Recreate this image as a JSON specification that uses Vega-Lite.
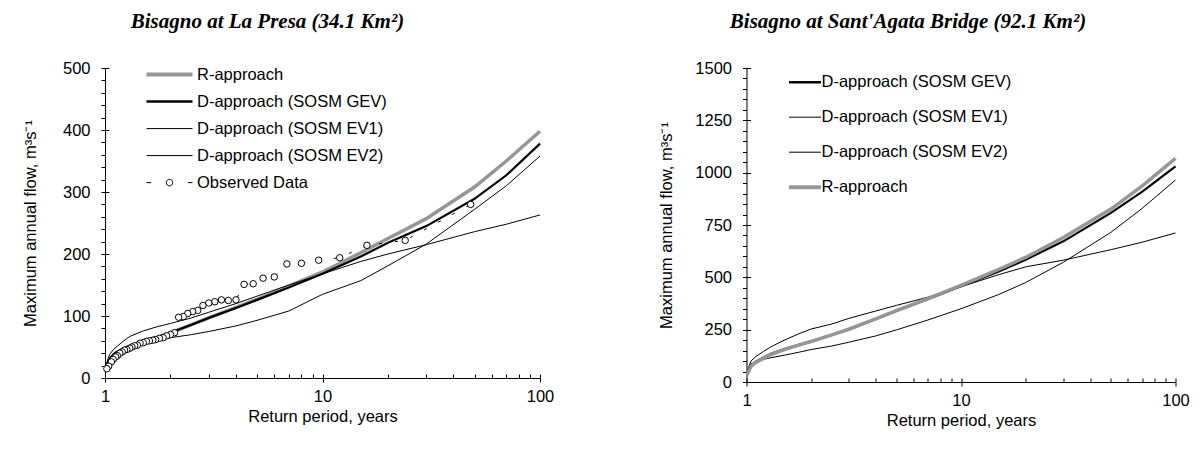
{
  "$schema": "https://vega.github.io/schema/vega-lite/v6.json",
  "background": "white",
  "padding": {"left": 22, "top": 11, "right": 0, "bottom": 0},
  "config": {
    "view": {"stroke": null},
    "font": "Liberation Sans",
    "axis": {"labelFont": "Liberation Sans", "labelFontSize": 16.5, "labelColor": "black", "titleFont": "Liberation Sans", "titleFontSize": 16.5, "titleFontWeight": "normal", "titleColor": "black", "domainColor": "black", "tickColor": "black", "domainWidth": 1, "tickWidth": 1, "grid": false, "labelFlush": false},
    "title": {"font": "Liberation Serif", "fontSize": 21, "fontWeight": "bold", "fontStyle": "italic", "color": "black"}
  },
  "datasets": {
    "left": [
      {"series": "R-approach", "T": 1.005, "Q": 14}, {"series": "R-approach", "T": 1.05, "Q": 30}, {"series": "R-approach", "T": 1.1, "Q": 37}, {"series": "R-approach", "T": 1.2, "Q": 45}, {"series": "R-approach", "T": 1.3, "Q": 51}, {"series": "R-approach", "T": 1.5, "Q": 59}, {"series": "R-approach", "T": 1.75, "Q": 66}, {"series": "R-approach", "T": 2, "Q": 73}, {"series": "R-approach", "T": 2.5, "Q": 86}, {"series": "R-approach", "T": 3, "Q": 97}, {"series": "R-approach", "T": 4, "Q": 114}, {"series": "R-approach", "T": 5, "Q": 127}, {"series": "R-approach", "T": 7, "Q": 148}, {"series": "R-approach", "T": 10, "Q": 171}, {"series": "R-approach", "T": 15, "Q": 202}, {"series": "R-approach", "T": 20, "Q": 225}, {"series": "R-approach", "T": 30, "Q": 257}, {"series": "R-approach", "T": 50, "Q": 308}, {"series": "R-approach", "T": 70, "Q": 350}, {"series": "R-approach", "T": 100, "Q": 398},
      {"series": "D-approach (SOSM EV1)", "T": 1.005, "Q": 18}, {"series": "D-approach (SOSM EV1)", "T": 1.05, "Q": 38}, {"series": "D-approach (SOSM EV1)", "T": 1.1, "Q": 47}, {"series": "D-approach (SOSM EV1)", "T": 1.2, "Q": 58}, {"series": "D-approach (SOSM EV1)", "T": 1.3, "Q": 67}, {"series": "D-approach (SOSM EV1)", "T": 1.5, "Q": 76}, {"series": "D-approach (SOSM EV1)", "T": 1.75, "Q": 83}, {"series": "D-approach (SOSM EV1)", "T": 2, "Q": 88}, {"series": "D-approach (SOSM EV1)", "T": 2.5, "Q": 97}, {"series": "D-approach (SOSM EV1)", "T": 3, "Q": 106}, {"series": "D-approach (SOSM EV1)", "T": 4, "Q": 120}, {"series": "D-approach (SOSM EV1)", "T": 5, "Q": 132}, {"series": "D-approach (SOSM EV1)", "T": 7, "Q": 150}, {"series": "D-approach (SOSM EV1)", "T": 10, "Q": 168}, {"series": "D-approach (SOSM EV1)", "T": 15, "Q": 188}, {"series": "D-approach (SOSM EV1)", "T": 20, "Q": 200}, {"series": "D-approach (SOSM EV1)", "T": 30, "Q": 215}, {"series": "D-approach (SOSM EV1)", "T": 50, "Q": 236}, {"series": "D-approach (SOSM EV1)", "T": 70, "Q": 248}, {"series": "D-approach (SOSM EV1)", "T": 100, "Q": 263},
      {"series": "D-approach (SOSM EV2)", "T": 1.005, "Q": 18}, {"series": "D-approach (SOSM EV2)", "T": 1.05, "Q": 33}, {"series": "D-approach (SOSM EV2)", "T": 1.1, "Q": 41}, {"series": "D-approach (SOSM EV2)", "T": 1.2, "Q": 48}, {"series": "D-approach (SOSM EV2)", "T": 1.3, "Q": 53}, {"series": "D-approach (SOSM EV2)", "T": 1.5, "Q": 58}, {"series": "D-approach (SOSM EV2)", "T": 1.75, "Q": 62}, {"series": "D-approach (SOSM EV2)", "T": 2, "Q": 65}, {"series": "D-approach (SOSM EV2)", "T": 2.5, "Q": 70}, {"series": "D-approach (SOSM EV2)", "T": 3, "Q": 75}, {"series": "D-approach (SOSM EV2)", "T": 4, "Q": 84}, {"series": "D-approach (SOSM EV2)", "T": 5, "Q": 93}, {"series": "D-approach (SOSM EV2)", "T": 7, "Q": 108}, {"series": "D-approach (SOSM EV2)", "T": 10, "Q": 135}, {"series": "D-approach (SOSM EV2)", "T": 15, "Q": 157}, {"series": "D-approach (SOSM EV2)", "T": 20, "Q": 181}, {"series": "D-approach (SOSM EV2)", "T": 30, "Q": 216}, {"series": "D-approach (SOSM EV2)", "T": 50, "Q": 272}, {"series": "D-approach (SOSM EV2)", "T": 70, "Q": 310}, {"series": "D-approach (SOSM EV2)", "T": 100, "Q": 358},
      {"series": "D-approach (SOSM GEV)", "T": 1.005, "Q": 15}, {"series": "D-approach (SOSM GEV)", "T": 1.05, "Q": 31}, {"series": "D-approach (SOSM GEV)", "T": 1.1, "Q": 38}, {"series": "D-approach (SOSM GEV)", "T": 1.2, "Q": 46}, {"series": "D-approach (SOSM GEV)", "T": 1.3, "Q": 51}, {"series": "D-approach (SOSM GEV)", "T": 1.5, "Q": 59}, {"series": "D-approach (SOSM GEV)", "T": 1.75, "Q": 66}, {"series": "D-approach (SOSM GEV)", "T": 2, "Q": 73}, {"series": "D-approach (SOSM GEV)", "T": 2.5, "Q": 86}, {"series": "D-approach (SOSM GEV)", "T": 3, "Q": 97}, {"series": "D-approach (SOSM GEV)", "T": 4, "Q": 113}, {"series": "D-approach (SOSM GEV)", "T": 5, "Q": 126}, {"series": "D-approach (SOSM GEV)", "T": 7, "Q": 146}, {"series": "D-approach (SOSM GEV)", "T": 10, "Q": 168}, {"series": "D-approach (SOSM GEV)", "T": 15, "Q": 196}, {"series": "D-approach (SOSM GEV)", "T": 20, "Q": 218}, {"series": "D-approach (SOSM GEV)", "T": 30, "Q": 245}, {"series": "D-approach (SOSM GEV)", "T": 50, "Q": 289}, {"series": "D-approach (SOSM GEV)", "T": 70, "Q": 327}, {"series": "D-approach (SOSM GEV)", "T": 100, "Q": 378}
    ],
    "observed": [
      {"T": 48, "Q": 280}, {"T": 24, "Q": 222}, {"T": 16, "Q": 214}, {"T": 12, "Q": 194}, {"T": 9.6, "Q": 190}, {"T": 8, "Q": 185}, {"T": 6.86, "Q": 184}, {"T": 6, "Q": 163}, {"T": 5.33, "Q": 161}, {"T": 4.8, "Q": 152}, {"T": 4.36, "Q": 151}, {"T": 4, "Q": 126}, {"T": 3.69, "Q": 125}, {"T": 3.43, "Q": 126}, {"T": 3.2, "Q": 123}, {"T": 3, "Q": 121}, {"T": 2.82, "Q": 117}, {"T": 2.67, "Q": 109}, {"T": 2.53, "Q": 107}, {"T": 2.4, "Q": 104}, {"T": 2.29, "Q": 99}, {"T": 2.18, "Q": 98}, {"T": 2.09, "Q": 73}, {"T": 2, "Q": 70}, {"T": 1.92, "Q": 68}, {"T": 1.85, "Q": 65}, {"T": 1.78, "Q": 64}, {"T": 1.71, "Q": 62}, {"T": 1.66, "Q": 61}, {"T": 1.6, "Q": 60}, {"T": 1.55, "Q": 59}, {"T": 1.5, "Q": 57}, {"T": 1.45, "Q": 56}, {"T": 1.41, "Q": 53}, {"T": 1.37, "Q": 52}, {"T": 1.33, "Q": 50}, {"T": 1.3, "Q": 48}, {"T": 1.26, "Q": 46}, {"T": 1.23, "Q": 45}, {"T": 1.2, "Q": 42}, {"T": 1.17, "Q": 40}, {"T": 1.14, "Q": 36}, {"T": 1.12, "Q": 34}, {"T": 1.09, "Q": 30}, {"T": 1.07, "Q": 26}, {"T": 1.04, "Q": 19}, {"T": 1.02, "Q": 15}
    ],
    "right": [
      {"series": "D-approach (SOSM EV1)", "T": 1.005, "Q": 50}, {"series": "D-approach (SOSM EV1)", "T": 1.05, "Q": 100}, {"series": "D-approach (SOSM EV1)", "T": 1.1, "Q": 120}, {"series": "D-approach (SOSM EV1)", "T": 1.2, "Q": 146}, {"series": "D-approach (SOSM EV1)", "T": 1.3, "Q": 168}, {"series": "D-approach (SOSM EV1)", "T": 1.5, "Q": 200}, {"series": "D-approach (SOSM EV1)", "T": 1.75, "Q": 230}, {"series": "D-approach (SOSM EV1)", "T": 2, "Q": 253}, {"series": "D-approach (SOSM EV1)", "T": 2.5, "Q": 277}, {"series": "D-approach (SOSM EV1)", "T": 3, "Q": 304}, {"series": "D-approach (SOSM EV1)", "T": 4, "Q": 339}, {"series": "D-approach (SOSM EV1)", "T": 5, "Q": 366}, {"series": "D-approach (SOSM EV1)", "T": 7, "Q": 405}, {"series": "D-approach (SOSM EV1)", "T": 10, "Q": 455}, {"series": "D-approach (SOSM EV1)", "T": 15, "Q": 513}, {"series": "D-approach (SOSM EV1)", "T": 20, "Q": 550}, {"series": "D-approach (SOSM EV1)", "T": 30, "Q": 582}, {"series": "D-approach (SOSM EV1)", "T": 50, "Q": 632}, {"series": "D-approach (SOSM EV1)", "T": 70, "Q": 668}, {"series": "D-approach (SOSM EV1)", "T": 100, "Q": 712},
      {"series": "D-approach (SOSM EV2)", "T": 1.005, "Q": 50}, {"series": "D-approach (SOSM EV2)", "T": 1.05, "Q": 85}, {"series": "D-approach (SOSM EV2)", "T": 1.1, "Q": 95}, {"series": "D-approach (SOSM EV2)", "T": 1.2, "Q": 108}, {"series": "D-approach (SOSM EV2)", "T": 1.3, "Q": 116}, {"series": "D-approach (SOSM EV2)", "T": 1.5, "Q": 128}, {"series": "D-approach (SOSM EV2)", "T": 1.75, "Q": 142}, {"series": "D-approach (SOSM EV2)", "T": 2, "Q": 155}, {"series": "D-approach (SOSM EV2)", "T": 2.5, "Q": 172}, {"series": "D-approach (SOSM EV2)", "T": 3, "Q": 190}, {"series": "D-approach (SOSM EV2)", "T": 4, "Q": 220}, {"series": "D-approach (SOSM EV2)", "T": 5, "Q": 249}, {"series": "D-approach (SOSM EV2)", "T": 7, "Q": 296}, {"series": "D-approach (SOSM EV2)", "T": 10, "Q": 350}, {"series": "D-approach (SOSM EV2)", "T": 15, "Q": 418}, {"series": "D-approach (SOSM EV2)", "T": 20, "Q": 475}, {"series": "D-approach (SOSM EV2)", "T": 30, "Q": 572}, {"series": "D-approach (SOSM EV2)", "T": 50, "Q": 715}, {"series": "D-approach (SOSM EV2)", "T": 70, "Q": 830}, {"series": "D-approach (SOSM EV2)", "T": 100, "Q": 965},
      {"series": "D-approach (SOSM GEV)", "T": 1.005, "Q": 40}, {"series": "D-approach (SOSM GEV)", "T": 1.05, "Q": 80}, {"series": "D-approach (SOSM GEV)", "T": 1.1, "Q": 96}, {"series": "D-approach (SOSM GEV)", "T": 1.2, "Q": 117}, {"series": "D-approach (SOSM GEV)", "T": 1.3, "Q": 135}, {"series": "D-approach (SOSM GEV)", "T": 1.5, "Q": 158}, {"series": "D-approach (SOSM GEV)", "T": 1.75, "Q": 178}, {"series": "D-approach (SOSM GEV)", "T": 2, "Q": 195}, {"series": "D-approach (SOSM GEV)", "T": 2.5, "Q": 226}, {"series": "D-approach (SOSM GEV)", "T": 3, "Q": 252}, {"series": "D-approach (SOSM GEV)", "T": 4, "Q": 300}, {"series": "D-approach (SOSM GEV)", "T": 5, "Q": 339}, {"series": "D-approach (SOSM GEV)", "T": 7, "Q": 395}, {"series": "D-approach (SOSM GEV)", "T": 10, "Q": 458}, {"series": "D-approach (SOSM GEV)", "T": 15, "Q": 528}, {"series": "D-approach (SOSM GEV)", "T": 20, "Q": 584}, {"series": "D-approach (SOSM GEV)", "T": 30, "Q": 672}, {"series": "D-approach (SOSM GEV)", "T": 50, "Q": 808}, {"series": "D-approach (SOSM GEV)", "T": 70, "Q": 909}, {"series": "D-approach (SOSM GEV)", "T": 100, "Q": 1030},
      {"series": "R-approach", "T": 1.005, "Q": 35}, {"series": "R-approach", "T": 1.05, "Q": 75}, {"series": "R-approach", "T": 1.1, "Q": 92}, {"series": "R-approach", "T": 1.2, "Q": 113}, {"series": "R-approach", "T": 1.3, "Q": 131}, {"series": "R-approach", "T": 1.5, "Q": 155}, {"series": "R-approach", "T": 1.75, "Q": 176}, {"series": "R-approach", "T": 2, "Q": 193}, {"series": "R-approach", "T": 2.5, "Q": 225}, {"series": "R-approach", "T": 3, "Q": 252}, {"series": "R-approach", "T": 4, "Q": 302}, {"series": "R-approach", "T": 5, "Q": 341}, {"series": "R-approach", "T": 7, "Q": 398}, {"series": "R-approach", "T": 10, "Q": 462}, {"series": "R-approach", "T": 15, "Q": 538}, {"series": "R-approach", "T": 20, "Q": 595}, {"series": "R-approach", "T": 30, "Q": 690}, {"series": "R-approach", "T": 50, "Q": 826}, {"series": "R-approach", "T": 70, "Q": 937}, {"series": "R-approach", "T": 100, "Q": 1068}
    ]
  },
  "spacing": 104.5,
  "resolve": {"scale": {"color": "independent"}, "legend": {"color": "independent"}},
  "hconcat": [
    {
      "width": 435,
      "height": 310,
      "title": {"text": "Bisagno at La Presa (34.1 Km²)", "anchor": "middle", "dx": -55, "offset": 28},
      "resolve": {"axis": {"x": "independent", "y": "independent"}},
      "layer": [
        {
          "data": {"name": "left"},
          "mark": {"type": "line"},
          "encoding": {
            "x": {"field": "T", "type": "quantitative", "scale": {"type": "log", "domain": [1, 100], "nice": false},
              "axis": {"orient": "bottom", "values": [1, 10, 100], "format": "d", "tickSize": 4, "labelPadding": 6, "labelFlush": false, "title": "Return period, years", "titlePadding": 4}},
            "y": {"field": "Q", "type": "quantitative", "scale": {"domain": [0, 500], "nice": false},
              "axis": {"orient": "left", "values": [0, 20, 40, 60, 80, 100, 120, 140, 160, 180, 200, 220, 240, 260, 280, 300, 320, 340, 360, 380, 400, 420, 440, 460, 480, 500], "format": "d", "labelExpr": "datum.value % 100 === 0 ? datum.label : ''", "tickSize": 4, "labelPadding": 11, "labelFlush": false, "title": "Maximum annual flow, m³s⁻¹", "titlePadding": 24}},
            "color": {"field": "series", "type": "nominal",
              "scale": {"domain": ["R-approach", "D-approach (SOSM GEV)", "D-approach (SOSM EV1)", "D-approach (SOSM EV2)", "Observed Data"], "range": ["#969696", "#000000", "#000000", "#000000", "#000000"]},
              "legend": {"orient": "none", "legendX": 41, "legendY": -6.5, "title": null, "symbolType": "stroke", "symbolSize": 2116, "clipHeight": 26.2, "rowPadding": 0, "padding": 0, "labelOffset": 4, "labelFont": "Liberation Sans", "labelFontSize": 16.5, "labelColor": "black", "labelLimit": 400,
                "encode": {"symbols": {"update": {
                  "shape": {"signal": "(datum.value === 'Observed Data' ? 'M-1,0H-0.8M0.14,0A0.14,0.14,0,1,1,-0.14,0A0.14,0.14,0,1,1,0.14,0M0.8,0H1' : 'stroke')"},
                  "strokeWidth": {"signal": "(datum.value === 'R-approach' ? 4 : (datum.value === 'D-approach (SOSM GEV)' ? 2.5 : 1))"},
                  "fill": {"value": "transparent"}}}}}},
            "strokeWidth": {"condition": [{"test": "datum.series === 'R-approach'", "value": 3.5}, {"test": "datum.series === 'D-approach (SOSM GEV)'", "value": 2.2}], "value": 1}
          }
        },
        {
          "data": {"name": "observed"},
          "mark": {"type": "line", "color": "black", "strokeWidth": 1, "strokeDash": [3, 13]},
          "encoding": {
            "x": {"field": "T", "type": "quantitative", "axis": null},
            "y": {"field": "Q", "type": "quantitative", "axis": null}
          }
        },
        {
          "data": {"name": "observed"},
          "mark": {"type": "point", "shape": "circle", "size": 42, "filled": true, "fill": "white", "stroke": "black", "strokeWidth": 1, "opacity": 1},
          "encoding": {
            "x": {"field": "T", "type": "quantitative",
              "axis": {"orient": "bottom", "values": [1, 2, 3, 4, 5, 6, 7, 8, 9, 10, 20, 30, 40, 50, 60, 70, 80, 90, 100], "tickSize": -4, "labels": false, "domain": false, "title": null}},
            "y": {"field": "Q", "type": "quantitative",
              "axis": {"orient": "left", "values": [0, 100, 200, 300, 400, 500], "tickSize": -4, "labels": false, "domain": false, "title": null}}
          }
        }
      ]
    },
    {
      "width": 429,
      "height": 314,
      "title": {"text": "Bisagno at Sant'Agata Bridge (92.1 Km²)", "anchor": "middle", "dx": -53, "offset": 28},
      "resolve": {"axis": {"x": "independent", "y": "independent"}},
      "layer": [
        {
          "data": {"name": "right"},
          "transform": [{"filter": "datum.series !== 'R-approach'"}],
          "mark": {"type": "line"},
          "encoding": {
            "x": {"field": "T", "type": "quantitative", "scale": {"type": "log", "domain": [1, 100], "nice": false},
              "axis": {"orient": "bottom", "values": [1, 10, 100], "format": "d", "tickSize": 4, "labelPadding": 6, "labelFlush": false, "title": "Return period, years", "titlePadding": 4}},
            "y": {"field": "Q", "type": "quantitative", "scale": {"domain": [0, 1500], "nice": false},
              "axis": {"orient": "left", "values": [0, 50, 100, 150, 200, 250, 300, 350, 400, 450, 500, 550, 600, 650, 700, 750, 800, 850, 900, 950, 1000, 1050, 1100, 1150, 1200, 1250, 1300, 1350, 1400, 1450, 1500], "format": "d", "labelExpr": "datum.value % 250 === 0 ? datum.label : ''", "tickSize": 4, "labelPadding": 11, "labelFlush": false, "title": "Maximum annual flow, m³s⁻¹", "titlePadding": 20}},
            "color": {"field": "series", "type": "nominal",
              "scale": {"domain": ["D-approach (SOSM GEV)", "D-approach (SOSM EV1)", "D-approach (SOSM EV2)", "R-approach"], "range": ["#000000", "#000000", "#000000", "#969696"]},
              "legend": {"orient": "none", "legendX": 42, "legendY": -3, "title": null, "symbolType": "stroke", "symbolSize": 1024, "clipHeight": 34.4, "rowPadding": 0, "padding": 0, "labelOffset": 0, "labelFont": "Liberation Sans", "labelFontSize": 16.5, "labelColor": "black", "labelLimit": 400,
                "encode": {"symbols": {"update": {
                  "strokeWidth": {"signal": "(datum.value === 'R-approach' ? 4 : (datum.value === 'D-approach (SOSM GEV)' ? 2.5 : 1))"},
                  "fill": {"value": "transparent"}}}}}},
            "strokeWidth": {"condition": {"test": "datum.series === 'D-approach (SOSM GEV)'", "value": 2.2}, "value": 1}
          }
        },
        {
          "data": {"name": "right"},
          "transform": [{"filter": "datum.series === 'R-approach'"}],
          "mark": {"type": "line", "strokeWidth": 3.5},
          "encoding": {
            "x": {"field": "T", "type": "quantitative",
              "axis": {"orient": "bottom", "values": [1, 2, 3, 4, 5, 6, 7, 8, 9, 10, 20, 30, 40, 50, 60, 70, 80, 90, 100], "tickSize": -4, "labels": false, "domain": false, "title": null}},
            "y": {"field": "Q", "type": "quantitative",
              "axis": {"orient": "left", "values": [0, 250, 500, 750, 1000, 1250, 1500], "tickSize": -4, "labels": false, "domain": false, "title": null}},
            "color": {"field": "series", "type": "nominal",
              "scale": {"domain": ["D-approach (SOSM GEV)", "D-approach (SOSM EV1)", "D-approach (SOSM EV2)", "R-approach"], "range": ["#000000", "#000000", "#000000", "#969696"]},
              "legend": {"orient": "none", "legendX": 42, "legendY": -3, "title": null, "symbolType": "stroke", "symbolSize": 1024, "clipHeight": 34.4, "rowPadding": 0, "padding": 0, "labelOffset": 0, "labelFont": "Liberation Sans", "labelFontSize": 16.5, "labelColor": "black", "labelLimit": 400,
                "encode": {"symbols": {"update": {
                  "strokeWidth": {"signal": "(datum.value === 'R-approach' ? 4 : (datum.value === 'D-approach (SOSM GEV)' ? 2.5 : 1))"},
                  "fill": {"value": "transparent"}}}}}}
          }
        }
      ]
    }
  ]
}
